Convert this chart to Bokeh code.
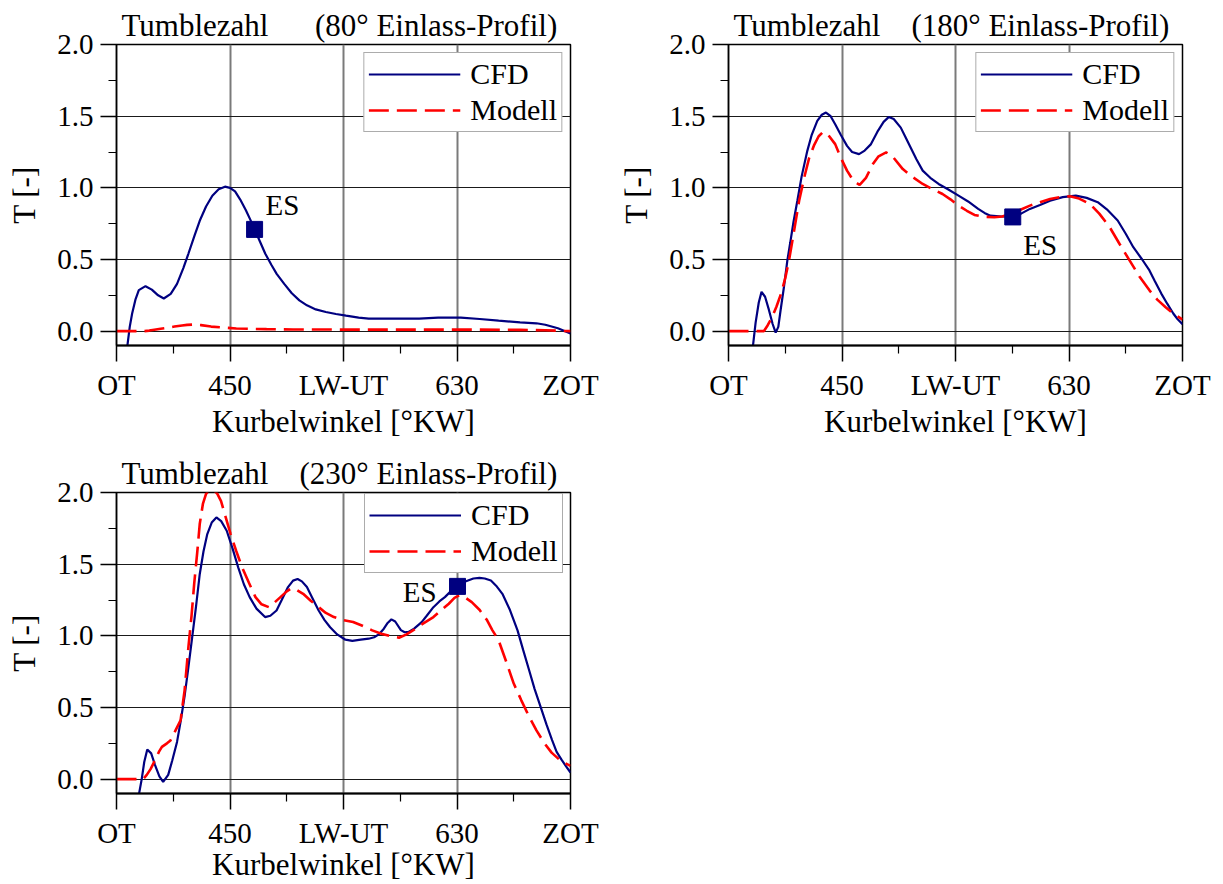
from bokeh.plotting import figure
from bokeh.layouts import gridplot
from bokeh.models import (FixedTicker, Label, Legend, LegendItem,
                          NumeralTickFormatter, Range1d, Title)
from bokeh.embed import file_html
from bokeh.resources import INLINE

FONT = "Liberation Serif"
FONT_Q = "'Liberation Serif'"
CFD_COLOR = "#000080"
MOD_COLOR = "#ff0000"
NBSP = "\u00a0"

# crank angle axis (deg CA) and tumble axis
x_ticks = [360, 450, 540, 630, 720]
x_tick_labels = ["OT", "450", "LW-UT", "630", "ZOT"]
x_minor = [405, 495, 585, 675]
y_ticks = [0.0, 0.5, 1.0, 1.5, 2.0]
y_minor = [0.25, 0.75, 1.25, 1.75]

# ---- 80 deg intake profile ----
cfd80_x = [368.5, 370.5, 372.4, 375, 377.7, 383, 388, 393, 397.5, 403, 408, 413, 417, 422, 426,
           431, 436, 441, 446, 450, 454, 458, 462.5, 466, 469.5, 474, 478, 483, 487, 493, 499,
           505, 511, 518, 526, 534, 542, 552, 560, 580, 600, 615, 633, 648, 663, 680, 693, 700,
           710, 720]
cfd80_y = [-0.11, 0.03, 0.123, 0.22, 0.286, 0.314, 0.29, 0.25, 0.228, 0.26, 0.33, 0.44, 0.54,
           0.67, 0.77, 0.87, 0.945, 0.99, 1.008, 1.0, 0.975, 0.92, 0.845, 0.78, 0.71, 0.62, 0.54,
           0.46, 0.40, 0.33, 0.265, 0.215, 0.18, 0.152, 0.134, 0.12, 0.108, 0.095, 0.088, 0.088,
           0.088, 0.094, 0.095, 0.085, 0.073, 0.062, 0.055, 0.045, 0.02, -0.016]
mod80_x = [360, 381.7, 386, 390, 395, 400, 406, 412, 416, 421.3, 427, 435, 442, 447.7, 455, 466,
           479, 500, 540, 600, 640, 680, 700, 720]
mod80_y = [0.0, 0.0, 0.004, 0.01, 0.017, 0.023, 0.032, 0.04, 0.044, 0.046, 0.042, 0.032, 0.027,
           0.023, 0.019, 0.016, 0.014, 0.012, 0.011, 0.011, 0.011, 0.009, 0.006, 0.0]
es80 = (469.5, 0.71)

# ---- 180 deg intake profile ----
cfd180_x = [379.3, 381.5, 384, 386.2, 389, 392, 395, 397.4, 399.5, 401.3, 404, 406.7, 409,
            411.5, 414.6, 418, 422.5, 426, 430.4, 434, 437.3, 441, 444.6, 449, 454, 458, 463.5,
            468, 473, 478, 483, 487.2, 491, 496.6, 500, 504.5, 509, 514, 520, 526.6, 534,
            542.4, 550, 558, 563, 567.6, 577, 585.4, 592, 599, 607, 615, 625, 635.4, 644,
            652.8, 660, 668.6, 675, 681, 688, 693.8, 698, 703.2, 708, 712.7, 716, 720]
cfd180_y = [-0.11, 0.06, 0.2, 0.274, 0.24, 0.15, 0.05, -0.01, 0.03, 0.146, 0.31, 0.495, 0.62,
            0.76, 0.91, 1.08, 1.258, 1.37, 1.467, 1.51, 1.525, 1.50, 1.444, 1.37, 1.293, 1.25,
            1.235, 1.26, 1.305, 1.39, 1.46, 1.495, 1.48, 1.42, 1.36, 1.28, 1.20, 1.12, 1.07,
            1.027, 0.99, 0.946, 0.905, 0.853, 0.825, 0.806, 0.80, 0.797, 0.82, 0.853, 0.88,
            0.91, 0.935, 0.946, 0.93, 0.90, 0.85, 0.772, 0.68, 0.586, 0.50, 0.424, 0.35, 0.262,
            0.19, 0.123, 0.085, 0.049]
mod180_x = [360, 388, 391, 394.7, 398, 402, 405, 408, 412, 416, 420, 424, 428, 431.5, 435, 439,
            444.6, 449, 454, 459, 464, 469, 474.5, 479, 485, 490, 498.2, 506, 514, 522, 529.7,
            536, 542.4, 549, 555, 562, 570.8, 577, 583.4, 591, 599, 607, 615, 623, 630.7, 638,
            646.5, 654, 662.3, 670, 678, 686, 693.8, 700, 706.4, 713, 720]
mod180_y = [0.0, 0.0, 0.04, 0.10, 0.17, 0.27, 0.37, 0.495, 0.70, 0.91, 1.07, 1.21, 1.30, 1.36,
            1.39, 1.37, 1.305, 1.21, 1.12, 1.05, 1.02, 1.07, 1.166, 1.22, 1.247, 1.22, 1.131,
            1.075, 1.027, 0.99, 0.957, 0.92, 0.876, 0.84, 0.811, 0.798, 0.795, 0.80, 0.818,
            0.845, 0.876, 0.90, 0.922, 0.935, 0.941, 0.925, 0.888, 0.82, 0.725, 0.61, 0.494,
            0.38, 0.285, 0.22, 0.169, 0.12, 0.081]
es180 = (585.4, 0.797)

# ---- 230 deg intake profile ----
cfd230_x = [377.7, 380, 382, 384.4, 387.5, 390.5, 394, 397, 401, 404.2, 408, 411, 414, 417, 420,
            423, 426, 429, 432, 435.5, 439.2, 443, 447.4, 452, 456.5, 461, 465.6, 471, 477.8, 482,
            486.9, 491, 496, 500, 503.6, 507, 511, 515, 520.3, 525, 529.4, 535, 541.5, 547, 553.7,
            560, 564.3, 568, 572, 575, 578, 581, 585.5, 588.5, 591.6, 596, 602, 606, 611.3, 616,
            620.4, 625, 630.4, 634, 638.7, 643, 647.8, 652, 656.9, 661, 666, 672, 678, 682.5,
            687.2, 691.5, 696.3, 701, 705.4, 709, 713, 716.5, 720]
cfd230_y = [-0.11, 0.0, 0.12, 0.207, 0.18, 0.10, 0.02, -0.019, 0.03, 0.13, 0.26, 0.41, 0.58,
            0.78, 0.99, 1.2, 1.43, 1.59, 1.71, 1.79, 1.826, 1.80, 1.733, 1.61, 1.478, 1.36, 1.27,
            1.19, 1.131, 1.14, 1.177, 1.25, 1.34, 1.385, 1.397, 1.38, 1.34, 1.27, 1.177, 1.11,
            1.06, 1.01, 0.973, 0.965, 0.973, 0.98, 0.99, 1.01, 1.05, 1.09, 1.115, 1.10, 1.04,
            1.025, 1.027, 1.05, 1.096, 1.14, 1.20, 1.24, 1.27, 1.31, 1.345, 1.37, 1.386, 1.40,
            1.404, 1.40, 1.386, 1.35, 1.293, 1.18, 1.038, 0.90, 0.76, 0.63, 0.505, 0.38, 0.273,
            0.19, 0.134, 0.09, 0.046]
mod230_x = [360, 381, 384, 387, 391, 393.6, 396, 400, 402.8, 406.8, 410.8, 414, 417, 419.5,
            421.6, 424, 426, 428.5, 431, 434, 437, 440, 442.9, 446.5, 450.5, 455, 459.6, 465,
            470.2, 475, 480.8, 485, 490, 495, 499, 503, 508, 514, 520.3, 526, 532.4, 540, 547.6,
            555, 562.8, 570, 577, 584, 590, 596, 603, 611.3, 617, 623.5, 628, 631.7, 636, 641.7,
            648, 653.9, 658, 663, 669, 675, 681, 687.2, 693, 699.4, 705, 711.5, 716, 720]
mod230_y = [0.0, 0.0, 0.03, 0.07, 0.14, 0.19, 0.225, 0.25, 0.27, 0.34, 0.41, 0.62, 0.92, 1.14,
            1.363, 1.58, 1.78, 1.92, 1.99, 2.02, 2.02, 1.99, 1.94, 1.83, 1.71, 1.59, 1.478, 1.37,
            1.27, 1.22, 1.20, 1.23, 1.27, 1.31, 1.333, 1.32, 1.293, 1.245, 1.20, 1.16, 1.131,
            1.11, 1.096, 1.07, 1.038, 1.015, 0.998, 0.987, 1.01, 1.043, 1.085, 1.131, 1.175,
            1.224, 1.265, 1.282, 1.27, 1.235, 1.18, 1.108, 1.04, 0.969, 0.82, 0.667, 0.55, 0.436,
            0.34, 0.25, 0.185, 0.134, 0.11, 0.093]
es230 = (630.4, 1.345)


def make_panel(profile, gap, cfd_x, cfd_y, mod_x, mod_y, es, es_pos, es_align,
               width, legend_loc, xlabel_standoff=0):
    p = figure(width=width, height=448, output_backend="svg", toolbar_location=None,
               x_range=Range1d(360, 720), y_range=Range1d(-0.1, 2.0),
               min_border_left=116, min_border_right=width - 116 - 454,
               min_border_top=44, min_border_bottom=103,
               background_fill_color="white", border_fill_color="white")
    p.outline_line_color = "black"
    p.outline_line_width = 1.5

    # header: quantity on the left, intake profile on the right
    p.title = Title(text="Tumblezahl" + NBSP * gap + f"({profile}° Einlass-Profil)",
                    align="left", offset=5, standoff=3, text_font=FONT,
                    text_font_size="31px", text_font_style="normal", text_color="black")

    # axes
    for ax in (p.xaxis[0], p.yaxis[0]):
        ax.major_tick_in = 0
        ax.minor_tick_in = 0
        ax.major_tick_out = 16
        ax.minor_tick_out = 8
        ax.axis_line_color = "black"
        ax.major_tick_line_color = "black"
        ax.minor_tick_line_color = "black"
        ax.major_tick_line_width = 1.5
        ax.minor_tick_line_width = 1.2
        ax.major_label_text_font = FONT_Q
        ax.major_label_text_font_size = "29px"
        ax.major_label_text_color = "black"
        ax.axis_label_text_font = FONT_Q
        ax.axis_label_text_font_size = "31px"
        ax.axis_label_text_font_style = "normal"
        ax.axis_label_text_color = "black"
    p.xaxis.axis_line_width = 2.2
    p.yaxis.axis_line_width = 1.5

    p.xaxis.ticker = FixedTicker(ticks=x_ticks, minor_ticks=x_minor)
    p.xaxis.major_label_overrides = {t: s for t, s in zip(x_ticks, x_tick_labels)}
    p.xaxis.major_label_standoff = 7
    p.xaxis.axis_label = "Kurbelwinkel [°KW]"
    p.xaxis.axis_label_standoff = xlabel_standoff

    p.yaxis.ticker = FixedTicker(ticks=y_ticks, minor_ticks=y_minor)
    p.yaxis.formatter = NumeralTickFormatter(format="0.0")
    p.yaxis.major_label_standoff = 7
    p.yaxis.axis_label = "T [-]"
    p.yaxis.axis_label_standoff = 12

    # grid
    p.xgrid.ticker = FixedTicker(ticks=[450, 540, 630])
    p.xgrid.grid_line_color = "#7a7a7a"
    p.xgrid.grid_line_width = 2
    p.ygrid.ticker = FixedTicker(ticks=[0.0, 0.5, 1.0, 1.5])
    p.ygrid.grid_line_color = "#1a1a1a"
    p.ygrid.grid_line_width = 1.2

    r_cfd = p.line(cfd_x, cfd_y, line_color=CFD_COLOR, line_width=2.2)
    r_mod = p.line(mod_x, mod_y, line_color=MOD_COLOR, line_width=2.6, line_dash="20 8")
    p.scatter(x=[es[0]], y=[es[1]], marker="square", size=16,
              fill_color=CFD_COLOR, line_color=CFD_COLOR)

    p.add_layout(Label(x=es_pos[0], y=es_pos[1], text="ES", text_font=FONT,
                       text_font_size="29px", text_align=es_align,
                       text_baseline="middle", text_color="black"))

    legend = Legend(items=[LegendItem(label="CFD", renderers=[r_cfd]),
                           LegendItem(label="Modell", renderers=[r_mod])],
                    location=legend_loc)
    legend.label_text_font = FONT_Q
    legend.label_text_font_size = "30px"
    legend.label_text_color = "black"
    legend.label_text_baseline = "middle"
    legend.glyph_width = 92
    legend.glyph_height = 30
    legend.label_height = 30
    legend.label_standoff = 10
    legend.spacing = 2
    legend.padding = 4
    legend.margin = 8
    legend.border_line_color = "#5a5a5a"
    legend.border_line_width = 1.5
    legend.background_fill_color = "white"
    legend.background_fill_alpha = 1.0
    p.add_layout(legend)
    return p


p1 = make_panel("80", 6, cfd80_x, cfd80_y, mod80_x, mod80_y, es80, (478.2, 0.878), "left",
                612, "top_right")
p2 = make_panel("180", 4, cfd180_x, cfd180_y, mod180_x, mod180_y, es180, (593.7, 0.60), "left",
                611, "top_right")
p3 = make_panel("230", 4, cfd230_x, cfd230_y, mod230_x, mod230_y, es230, (613.8, 1.303), "right",
                612, (248, 220), xlabel_standoff=-5)

grid = gridplot([[p1, p2], [p3, None]], toolbar_location=None)
# the lowest row runs slightly past the page bottom; clip it instead of scrolling
grid.styles = {"overflow": "hidden", "max-height": "884px"}

open("out.html", "w").write(file_html(grid, INLINE))
